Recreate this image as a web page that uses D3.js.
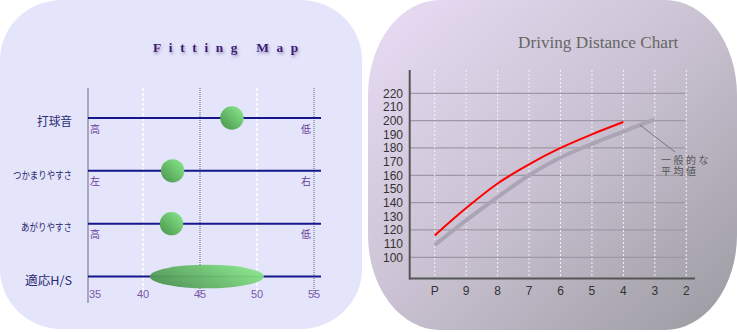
<!DOCTYPE html>
<meta charset="utf-8">
<style>
  body { margin: 0; background: #fff; }
  svg { display: block; }
</style>
<svg width="737" height="332"></svg>
<script src="https://cdn.jsdelivr.net/npm/d3@7"></script>
<script>

// fitting map data
var fitRows = ["打球音", "つかまりやすさ", "あがりやすさ", "適応H/S"];
var fitLeftWords = ["高", "左", "高"];
var fitRightWords = ["低", "右", "低"];
var fitValues = [47.8, 42.6, 42.5];
var hsRange = [40.6, 50.6];
var hsTicks = [35, 40, 45, 50, 55];

// driving distance data
var clubs = ["P", "9", "8", "7", "6", "5", "4", "3", "2"];
var distYou = [116, 136, 154, 168, 180, 190, 199];
var distAvg = [109, 127, 144, 160, 173, 183, 192, 201];
var distTicks = [100, 110, 120, 130, 140, 150, 160, 170, 180, 190, 200, 210, 220];
var distGrid = [100, 120, 140, 160, 180, 200, 220];
var avgNote = ["一般的な", "平均値"];

var svg = d3.select("svg");
var defs = svg.append("defs");

var bg = defs.append("linearGradient").attr("id", "bgRight")
    .attr("x1", 0).attr("y1", 0).attr("x2", 1).attr("y2", 1);
bg.append("stop").attr("offset", 0).attr("stop-color", "#e9ddf6");
bg.append("stop").attr("offset", 0.5).attr("stop-color", "#c9c1d1");
bg.append("stop").attr("offset", 1).attr("stop-color", "#9a9aa0");

var ball = defs.append("linearGradient").attr("id", "ball")
    .attr("x1", 0).attr("y1", 1).attr("x2", 1).attr("y2", 0);
ball.append("stop").attr("offset", 0).attr("stop-color", "#47914c");
ball.append("stop").attr("offset", 1).attr("stop-color", "#8cec8c");

var oval = defs.append("linearGradient").attr("id", "oval")
    .attr("x1", 0).attr("y1", 0.7).attr("x2", 1).attr("y2", 0.3);
oval.append("stop").attr("offset", 0).attr("stop-color", "#4a9250");
oval.append("stop").attr("offset", 1).attr("stop-color", "#88e688");

var shadow = defs.append("filter").attr("id", "shadow")
    .attr("x", -0.1).attr("y", -0.5).attr("width", 1.2).attr("height", 2);
shadow.append("feDropShadow").attr("dx", 1).attr("dy", 2)
    .attr("stdDeviation", 1.4).attr("flood-color", "#5a4a8a").attr("flood-opacity", 0.55);

var soft = defs.append("filter").attr("id", "soft");
soft.append("feGaussianBlur").attr("stdDeviation", 0.6);

// ---------- left panel: Fitting Map ----------
svg.append("rect")
    .attr("x", 0).attr("y", 0).attr("width", 362).attr("height", 329)
    .attr("rx", 62).attr("ry", 60)
    .attr("fill", "#e4e4fa");

svg.append("text")
    .attr("x", 153).attr("y", 52)
    .attr("font-family", "Liberation Serif, serif")
    .attr("font-weight", "bold")
    .attr("font-size", 13.5)
    .attr("letter-spacing", 7.6)
    .attr("fill", "#3c1c70")
    .attr("filter", "url(#shadow)")
    .text("Fitting Map");

var x = d3.scaleLinear().domain([35, 55]).range([86, 314]);
var row = d3.scalePoint().domain(fitRows).range([118, 276.5]);

// vertical grid
svg.append("g").selectAll("line")
  .data(hsTicks.slice(1))
  .enter().append("line")
    .attr("x1", function(d) { return x(d); })
    .attr("x2", function(d) { return x(d); })
    .attr("y1", 88).attr("y2", 298)
    .attr("stroke", function(d) { return d % 10 == 0 ? "#ffffff" : "#666"; })
    .attr("stroke-width", function(d) { return d % 10 == 0 ? 1.5 : 1; })
    .attr("stroke-dasharray", function(d) { return d % 10 == 0 ? "3,2" : "1,1"; });

// y axis line
svg.append("line")
    .attr("x1", 88).attr("x2", 88).attr("y1", 88).attr("y2", 303)
    .attr("stroke", "#6a6a88").attr("stroke-width", 1);

// row lines
svg.append("g").selectAll("line")
  .data(fitRows)
  .enter().append("line")
    .attr("x1", 88).attr("x2", 321)
    .attr("y1", function(d) { return row(d); })
    .attr("y2", function(d) { return row(d); })
    .attr("stroke", "#16168c").attr("stroke-width", 2);

// row names (the kana ones are set narrow like the original)
var rowWidths = [35, 59, 51, 47];
svg.append("g").selectAll("text")
  .data(fitRows)
  .enter().append("text")
    .attr("x", 72)
    .attr("y", function(d) { return row(d) + 4; })
    .attr("dy", "0.35em")
    .attr("text-anchor", "end")
    .attr("font-family", "Noto Sans CJK JP, sans-serif")
    .attr("font-size", function(d, i) { return (i == 1 || i == 2) ? 10.5 : 12; })
    .attr("textLength", function(d, i) { return rowWidths[i]; })
    .attr("lengthAdjust", "spacingAndGlyphs")
    .attr("fill", "#2a2a72")
    .text(function(d) { return d; });

// small end words
svg.append("g").selectAll("text")
  .data(fitLeftWords)
  .enter().append("text")
    .attr("x", 90)
    .attr("y", function(d, i) { return row(fitRows[i]) + 11; })
    .attr("dy", "0.35em")
    .attr("font-family", "Noto Sans CJK JP, sans-serif")
    .attr("font-size", 10)
    .attr("fill", "#6a3f9c")
    .text(function(d) { return d; });

svg.append("g").selectAll("text")
  .data(fitRightWords)
  .enter().append("text")
    .attr("x", 311)
    .attr("y", function(d, i) { return row(fitRows[i]) + 11; })
    .attr("dy", "0.35em")
    .attr("text-anchor", "end")
    .attr("font-family", "Noto Sans CJK JP, sans-serif")
    .attr("font-size", 10)
    .attr("fill", "#6a3f9c")
    .text(function(d) { return d; });

// tick labels
svg.append("g").selectAll("text")
  .data(hsTicks)
  .enter().append("text")
    .attr("x", function(d, i) { return i == 0 ? x(d) + 3 : x(d); })
    .attr("y", 294)
    .attr("dy", "0.35em")
    .attr("text-anchor", function(d, i) { return i == 0 ? "start" : "middle"; })
    .attr("font-family", "Liberation Sans, Arial, sans-serif")
    .attr("font-size", 11)
    .attr("fill", "#7a58aa")
    .text(function(d) { return d; });

// balls
svg.append("g").selectAll("circle")
  .data(fitValues)
  .enter().append("circle")
    .attr("cx", function(d) { return x(d); })
    .attr("cy", function(d, i) { return row(fitRows[i]); })
    .attr("r", 11.7)
    .attr("fill", "url(#ball)");

// head speed range
svg.append("ellipse")
    .attr("cx", (x(hsRange[0]) + x(hsRange[1])) / 2)
    .attr("cy", row(fitRows[3]))
    .attr("rx", (x(hsRange[1]) - x(hsRange[0])) / 2)
    .attr("ry", 11.8)
    .attr("fill", "url(#oval)")
    .attr("fill-opacity", 0.95);

// ---------- right panel: Driving Distance Chart ----------
svg.append("rect")
    .attr("x", 368).attr("y", 0).attr("width", 369).attr("height", 330)
    .attr("rx", 72).attr("ry", 95)
    .attr("fill", "url(#bgRight)");

svg.append("text")
    .attr("x", 518).attr("y", 48)
    .attr("font-family", "Liberation Serif, serif")
    .attr("font-size", 17.2)
    .attr("fill", "#666")
    .text("Driving Distance Chart");

var cx = d3.scalePoint().domain(clubs).range([434.7, 686.3]);
var y = d3.scaleLinear().domain([100, 220]).range([257.3, 93.3]);

// horizontal grid
svg.append("g").selectAll("line")
  .data(distGrid)
  .enter().append("line")
    .attr("x1", 410).attr("x2", 685)
    .attr("y1", function(d) { return y(d); })
    .attr("y2", function(d) { return y(d); })
    .attr("stroke", "#9e98a6").attr("stroke-width", 1.3);

// vertical dotted grid
svg.append("g").selectAll("line")
  .data(clubs)
  .enter().append("line")
    .attr("x1", function(d) { return cx(d); })
    .attr("x2", function(d) { return cx(d); })
    .attr("y1", 70).attr("y2", 278)
    .attr("stroke", "#f4f0f8").attr("stroke-width", 1)
    .attr("stroke-dasharray", "2,2");

// axes
svg.append("line")
    .attr("x1", 409.7).attr("x2", 409.7).attr("y1", 70).attr("y2", 279.5)
    .attr("stroke", "#555").attr("stroke-width", 2);
svg.append("line")
    .attr("x1", 409).attr("x2", 695).attr("y1", 278.5).attr("y2", 278.5)
    .attr("stroke", "#555").attr("stroke-width", 2);

svg.append("g").selectAll("text")
  .data(distTicks)
  .enter().append("text")
    .attr("x", 403)
    .attr("y", function(d) { return y(d); })
    .attr("dy", "0.35em")
    .attr("text-anchor", "end")
    .attr("font-family", "Liberation Sans, Arial, sans-serif")
    .attr("font-size", 12)
    .attr("fill", "#333")
    .text(function(d) { return d; });

svg.append("g").selectAll("text")
  .data(clubs)
  .enter().append("text")
    .attr("x", function(d) { return cx(d); })
    .attr("y", 291)
    .attr("dy", "0.35em")
    .attr("text-anchor", "middle")
    .attr("font-family", "Liberation Sans, Arial, sans-serif")
    .attr("font-size", 12)
    .attr("fill", "#333")
    .text(function(d) { return d; });

var line = d3.line()
    .x(function(d, i) { return cx(clubs[i]); })
    .y(function(d) { return y(d); })
    .curve(d3.curveMonotoneX);

svg.append("path")
    .datum(distAvg)
    .attr("d", line)
    .attr("fill", "none")
    .attr("stroke", "#aaa4b4")
    .attr("stroke-width", 4)
    .attr("filter", "url(#soft)");

svg.append("path")
    .datum(distYou)
    .attr("d", line)
    .attr("fill", "none")
    .attr("stroke", "#ff0000")
    .attr("stroke-width", 2);

// note for the average line, one text wrapped on two lines
svg.append("line")
    .attr("x1", 640).attr("y1", 125).attr("x2", 675).attr("y2", 152)
    .attr("stroke", "#777").attr("stroke-width", 1);

svg.append("text")
    .attr("y", 160)
    .attr("font-family", "Noto Sans CJK JP, sans-serif")
    .attr("font-size", 10)
    .attr("letter-spacing", 2.5)
    .attr("fill", "#555")
  .selectAll("tspan")
  .data(avgNote)
  .enter().append("tspan")
    .attr("x", 661)
    .attr("dy", function(d, i) { return i == 0 ? "0.35em" : 11; })
    .text(function(d) { return d; });

</script>
